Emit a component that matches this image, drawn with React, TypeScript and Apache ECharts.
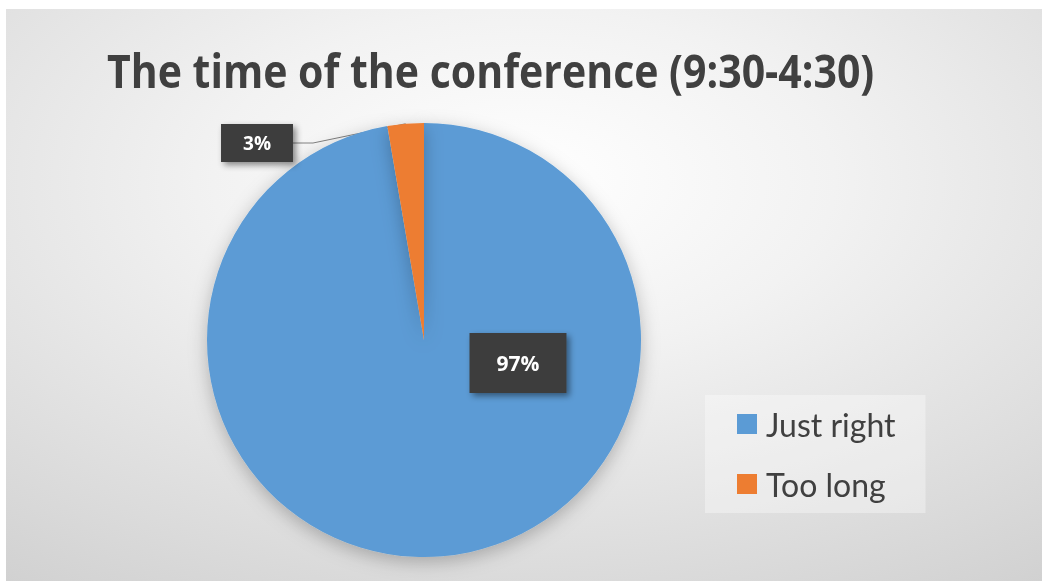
import React, { useEffect, useRef } from "react";
import * as echarts from "echarts";

const categories = ["Just right", "Too long"];
const values = [97.3, 2.7];
const colors = ["#5B9BD5", "#ED7D31"];
const titleText = "The time of the conference (9:30-4:30)";

export default function App() {
  const ref = useRef<HTMLDivElement>(null);
  useEffect(() => {
    const chart = echarts.init(ref.current!, null, { renderer: "svg" });
    const labelPos = [
      { x: 518, y: 363 },
      { x: 257, y: 143 },
    ];
    chart.setOption({
      animation: false,
      graphic: [
        {
          type: "rect",
          z: -100,
          silent: true,
          shape: { x: 6, y: 9, width: 1036, height: 572 },
          style: {
            fill: {
              type: "radial",
              x: 0.5,
              y: 0.3,
              r: 1.2,
              colorStops: [
                { offset: 0, color: "#ffffff" },
                { offset: 0.25, color: "#f2f2f2" },
                { offset: 1, color: "#bdbdbd" },
              ],
            },
          },
        },
        {
          type: "text",
          left: 107,
          top: 47,
          scaleX: 0.892,
          style: {
            text: titleText,
            fontFamily: "Open Sans",
            fontWeight: "bold",
            fontSize: 46,
            fill: "#404040",
          },
        },
      ],
      legend: {
        orient: "vertical",
        left: 705,
        top: 395,
        padding: [13, 30, 13, 32],
        backgroundColor: "rgba(255,255,255,0.35)",
        itemWidth: 20,
        itemHeight: 20,
        itemGap: 28,
        icon: "rect",
        textStyle: { fontFamily: "Lato", fontSize: 32, color: "#404040", lineHeight: 30, padding: [0, 0, 0, 4] },
        data: categories,
      },
      series: [
        {
          type: "pie",
          center: [424, 340],
          radius: 217,
          startAngle: 90,
          clockwise: true,
          emphasis: { disabled: true },
          itemStyle: { shadowBlur: 18, shadowColor: "rgba(0,0,0,0.25)", shadowOffsetY: 5 },
          data: categories.map((name, i) => ({
            name,
            value: values[i],
            itemStyle: { color: colors[i] },
            label:
              i === 0
                ? { position: "inside", padding: [19, 27], fontSize: 21, lineHeight: 22 }
                : { position: "outside", padding: [8, 22], fontSize: 19, lineHeight: 22 },
            labelLine: i === 0 ? { show: false } : { show: true, length: 10, length2: 20 },
          })),
          label: {
            show: true,
            formatter: (p: any) => Math.round(p.percent) + "%",
            color: "#ffffff",
            fontFamily: "Open Sans",
            fontWeight: "bold",
            backgroundColor: "#3d3d3d",
            shadowColor: "rgba(0,0,0,0.45)",
            shadowBlur: 6,
            shadowOffsetX: 3,
            shadowOffsetY: 3,
          },
          labelLine: { lineStyle: { color: "#808080", width: 1 } },
          labelLayout: (p: any) => ({
            x: labelPos[p.dataIndex].x,
            y: labelPos[p.dataIndex].y,
            align: "center",
            verticalAlign: "middle",
          }),
        },
      ],
    });
    return () => chart.dispose();
  }, []);
  return <div ref={ref} style={{ position: "fixed", left: 0, top: 0, width: 1042, height: 581 }} />;
}
